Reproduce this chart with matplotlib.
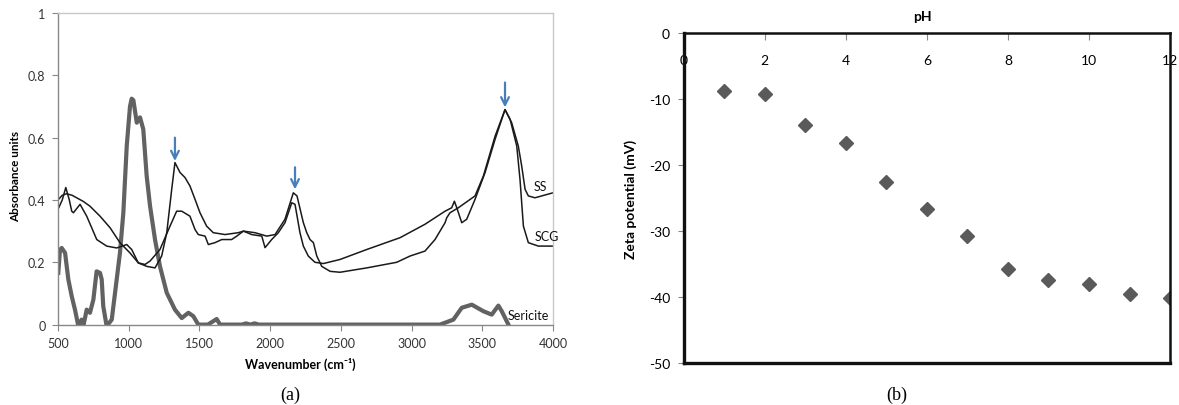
import numpy as np
import matplotlib
matplotlib.use("Agg")
import matplotlib.pyplot as plt

plt.rcParams['font.family'] = ['Lato', 'DejaVu Sans']
plt.rcParams['axes.unicode_minus'] = False

# ---- panel (a): FTIR spectra ----
ss_x = [500, 530, 561, 600, 632, 680, 726, 797, 868, 938, 1009, 1068, 1127, 1186, 1233, 1269, 1304,
        1327, 1363, 1398, 1433, 1469, 1504, 1551, 1598, 1681, 1775, 1811, 1893, 1976, 2035, 2105,
        2164, 2190, 2235, 2259, 2282, 2306, 2330, 2365, 2424, 2494, 2683, 2895, 2989, 3095, 3166,
        3237, 3249, 3272, 3331, 3449, 3508, 3591, 3661, 3697, 3744, 3767, 3791, 3826, 3897, 4000]
ss_y = [0.40, 0.415, 0.42, 0.415, 0.407, 0.395, 0.38, 0.348, 0.311, 0.263, 0.23, 0.198, 0.187, 0.182,
        0.22, 0.295, 0.434, 0.52, 0.488, 0.472, 0.445, 0.402, 0.359, 0.316, 0.295, 0.289, 0.295, 0.30,
        0.295, 0.284, 0.289, 0.338, 0.423, 0.413, 0.327, 0.295, 0.273, 0.263, 0.22, 0.187, 0.171,
        0.168, 0.182, 0.20, 0.22, 0.236, 0.273, 0.327, 0.343, 0.359, 0.375, 0.413, 0.477, 0.605,
        0.69, 0.659, 0.573, 0.466, 0.316, 0.263, 0.252, 0.252]

scg_x = [500, 530, 555, 580, 597, 609, 656, 703, 774, 844, 915, 986, 1021, 1068, 1115, 1151, 1221,
         1292, 1339, 1375, 1433, 1469, 1492, 1540, 1563, 1610, 1658, 1728, 1764, 1811, 1870, 1941,
         1964, 2011, 2058, 2105, 2153, 2176, 2211, 2235, 2270, 2317, 2377, 2494, 2683, 2919, 3095,
         3166, 3237, 3284, 3303, 3320, 3355, 3390, 3449, 3520, 3591, 3661, 3708, 3755, 3779, 3803,
         3826, 3873, 4000]
scg_y = [0.37, 0.40, 0.44, 0.40, 0.364, 0.359, 0.386, 0.348, 0.273, 0.252, 0.246, 0.257, 0.241,
         0.198, 0.193, 0.204, 0.241, 0.316, 0.364, 0.364, 0.348, 0.305, 0.289, 0.284, 0.257, 0.263,
         0.273, 0.273, 0.284, 0.30, 0.289, 0.284, 0.247, 0.273, 0.295, 0.327, 0.391, 0.386, 0.295,
         0.252, 0.22, 0.20, 0.196, 0.209, 0.241, 0.279, 0.322, 0.343, 0.364, 0.375, 0.396, 0.375,
         0.327, 0.338, 0.402, 0.488, 0.595, 0.69, 0.648, 0.573, 0.509, 0.434, 0.413, 0.407, 0.423]

ser_x = [502, 514, 526, 550, 573, 597, 620, 644, 667, 679, 703, 726, 750, 773, 797, 809, 820, 844,
         880, 915, 938, 962, 986, 1009, 1021, 1033, 1057, 1080, 1103, 1127, 1151, 1186, 1221, 1269,
         1327, 1375, 1422, 1457, 1492, 1560, 1622, 1646, 1800, 1830, 1860, 1890, 1920, 3201, 3296,
         3355, 3426, 3508, 3567, 3614, 3638, 3685]
ser_y = [0.166, 0.24, 0.246, 0.23, 0.145, 0.091, 0.048, -0.005, 0.016, -0.005, 0.048, 0.038, 0.08,
         0.171, 0.166, 0.145, 0.059, -0.005, 0.016, 0.145, 0.23, 0.359, 0.573, 0.70, 0.725, 0.72,
         0.648, 0.665, 0.627, 0.477, 0.38, 0.273, 0.187, 0.102, 0.048, 0.021, 0.038, 0.027, 0.0,
         0.0, 0.018, 0.0, 0.0, 0.004, 0.0, 0.004, 0.0, 0.0, 0.016, 0.054, 0.064, 0.043, 0.032, 0.061,
         0.043, 0.0]

arrow_x = [1327, 2176, 3661]
arrow_top = [0.60, 0.505, 0.777]
arrow_tip = [0.525, 0.434, 0.697]

# ---- panel (b): zeta potential vs pH ----
ph = [1, 2, 3, 4, 5, 6, 7, 8, 9, 10, 11, 12]
zeta = [-8.8, -9.2, -13.9, -16.6, -22.6, -26.7, -30.8, -35.7, -37.4, -38.1, -39.6, -40.1]

fig = plt.figure(figsize=(11.79, 4.06), dpi=100)

ax1 = fig.add_axes([0.0492, 0.198, 0.4198, 0.7675])
ax1.plot(ser_x, ser_y, color='#626262', lw=3.0, solid_joinstyle='round')
ax1.plot(ss_x, ss_y, color='#1a1a1a', lw=1.1)
ax1.plot(scg_x, scg_y, color='#1a1a1a', lw=1.1)
for xa, yt, yb in zip(arrow_x, arrow_top, arrow_tip):
    ax1.annotate('', xy=(xa, yb), xytext=(xa, yt),
                 arrowprops=dict(arrowstyle='->', color='#4a7ebb', lw=1.6,
                                 mutation_scale=14, shrinkA=0, shrinkB=0))
ax1.text(3860, 0.445, 'SS', fontsize=9, va='center', color='#111111')
ax1.text(3872, 0.283, 'SCG', fontsize=9, va='center', color='#111111')
ax1.text(3682, 0.032, 'Sericite', fontsize=9, va='center', color='#111111', clip_on=False)
ax1.set_xlim(500, 4000)
ax1.set_ylim(0, 1)
ax1.set_xticks(range(500, 4001, 500))
ax1.set_yticks([0, 0.2, 0.4, 0.6, 0.8, 1])
ax1.set_yticklabels(['0', '0.2', '0.4', '0.6', '0.8', '1'])
ax1.tick_params(direction='out', length=4, width=0.8, color='#888888',
                labelsize=9, labelcolor='#333333', pad=5)
for s in ['left', 'bottom']:
    ax1.spines[s].set_color('#888888')
for s in ['top', 'right']:
    ax1.spines[s].set_color('#c8c8c8')
for s in ax1.spines.values():
    s.set_linewidth(1.0)
ax1.set_xlabel('Wavenumber (cm⁻¹)', fontsize=9, fontweight='bold')
ax1.xaxis.set_label_coords(0.489, -0.105)
ax1.set_ylabel('Absorbance units', fontsize=8.5, fontweight='bold')
ax1.yaxis.set_label_coords(-0.075, 0.48)

ax2 = fig.add_axes([0.580, 0.1034, 0.4124, 0.8126])
ax2.plot(ph, zeta, linestyle='none', marker='D', markersize=7, color='#5a5a5a')
ax2.set_xlim(0, 12)
ax2.set_ylim(-50, 0)
ax2.set_xticks(range(0, 13, 2))
ax2.set_yticks(range(-50, 1, 10))
ax2.xaxis.set_ticks_position('top')
ax2.tick_params(axis='x', direction='in', length=5, width=0.8, color='#888888',
                labeltop=True, labelbottom=False, labelsize=10, pad=-24)
ax2.tick_params(axis='y', direction='out', length=4, width=0.8, color='#888888',
                labelsize=10, pad=6)
for s in ['left', 'bottom']:
    ax2.spines[s].set_linewidth(2.4)
for s in ['top', 'right']:
    ax2.spines[s].set_linewidth(1.8)
for s in ax2.spines.values():
    s.set_color('#111111')
ax2.set_xlabel('pH', fontsize=10, fontweight='bold')
ax2.xaxis.set_label_position('top')
ax2.xaxis.set_label_coords(0.49, 1.04)
ax2.set_ylabel('Zeta potential (mV)', fontsize=10, fontweight='bold')
ax2.yaxis.set_label_coords(-0.097, 0.5)

fig.text(0.246, 0.027, '(a)', fontsize=13, family='Liberation Serif', ha='center', va='center')
fig.text(0.761, 0.027, '(b)', fontsize=13, family='Liberation Serif', ha='center', va='center')

fig.savefig('out.png', dpi=100)
